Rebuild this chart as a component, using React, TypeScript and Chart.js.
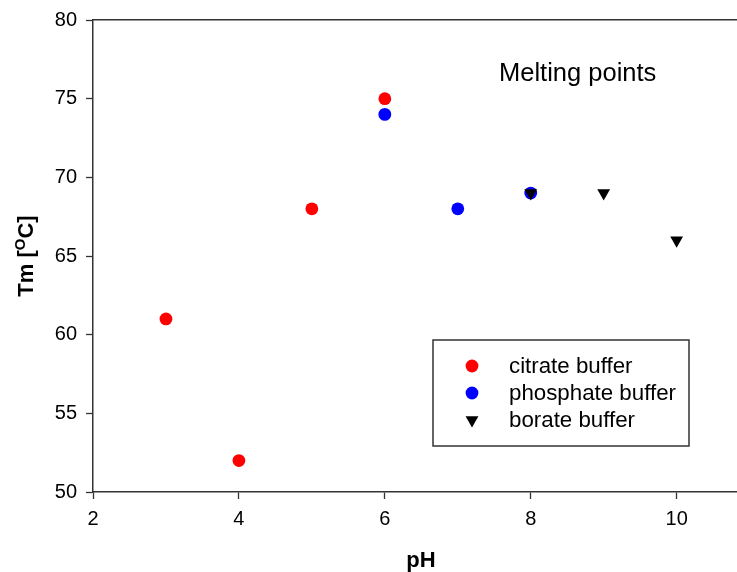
import React, { useEffect, useRef } from "react";
import { Chart, registerables } from "chart.js";

Chart.register(...registerables);

const citratePH = [3, 4, 5, 6];
const citrateTm = [61, 52, 68, 75];
const phosphatePH = [6, 7, 8];
const phosphateTm = [74, 68, 69];
const boratePH = [8, 9, 10];
const borateTm = [69, 69, 66];

const xTicks = [2, 4, 6, 8, 10];
const yTicks = [50, 55, 60, 65, 70, 75, 80];

const chartTitle = "Melting points";
const xTitle = "pH";

const FONT = "'Liberation Sans', Arial, sans-serif";

const toPts = (xs: number[], ys: number[]) => xs.map((x, i) => ({ x, y: ys[i] }));

const overlayPlugin = {
  id: "overlay",
  afterDraw(chart: any) {
    const ctx = chart.ctx as CanvasRenderingContext2D;
    ctx.save();
    ctx.fillStyle = "#000";
    ctx.font = `25.5px ${FONT}`;
    ctx.textAlign = "left";
    ctx.textBaseline = "alphabetic";
    ctx.fillText(chartTitle, 499, 81);

    ctx.font = `bold 22px ${FONT}`;
    ctx.textAlign = "center";
    ctx.fillText(xTitle, 421, 567);

    ctx.save();
    ctx.translate(33, 256);
    ctx.rotate(-Math.PI / 2);
    const big = `bold 22px ${FONT}`;
    const small = `bold 15px ${FONT}`;
    ctx.font = big;
    const w1 = ctx.measureText("Tm [").width;
    const w3 = ctx.measureText("C]").width;
    ctx.font = small;
    const w2 = ctx.measureText("O").width;
    const total = w1 + w2 + w3;
    let x0 = -total / 2;
    ctx.textAlign = "left";
    ctx.font = big;
    ctx.fillText("Tm [", x0, 0);
    x0 += w1;
    ctx.font = small;
    ctx.fillText("O", x0, -8);
    x0 += w2;
    ctx.font = big;
    ctx.fillText("C]", x0, 0);
    ctx.restore();

    const bx = 433, by = 340, bw = 256, bh = 106;
    ctx.strokeStyle = "#333";
    ctx.lineWidth = 1.5;
    ctx.strokeRect(bx, by, bw, bh);
    const rows = [366, 393, 420];
    chart.data.datasets.forEach((ds: any, i: number) => {
      const cy = rows[i];
      const cx = 472;
      ctx.fillStyle = ds.backgroundColor;
      ctx.beginPath();
      if (ds.pointStyle === "triangle") {
        const r = ds.pointRadius;
        let rad = Math.PI;
        ctx.moveTo(cx + Math.sin(rad) * r, cy - Math.cos(rad) * r);
        rad += (2 * Math.PI) / 3;
        ctx.lineTo(cx + Math.sin(rad) * r, cy - Math.cos(rad) * r);
        rad += (2 * Math.PI) / 3;
        ctx.lineTo(cx + Math.sin(rad) * r, cy - Math.cos(rad) * r);
        ctx.closePath();
      } else {
        ctx.arc(cx, cy, ds.pointRadius, 0, Math.PI * 2);
      }
      ctx.fill();
      ctx.fillStyle = "#000";
      ctx.font = `22.3px ${FONT}`;
      ctx.textAlign = "left";
      ctx.textBaseline = "middle";
      ctx.fillText(ds.label, 509, cy + 1);
    });
    ctx.restore();
  },
};

export default function App() {
  const ref = useRef<HTMLCanvasElement | null>(null);
  useEffect(() => {
    document.body.style.overflow = "hidden";
    document.documentElement.style.overflow = "hidden";
    const canvas = ref.current!;
    const xMax = 2 + 644 / 73;
    const chart = new Chart(canvas, {
      type: "scatter",
      data: {
        datasets: [
          {
            label: "citrate buffer",
            data: toPts(citratePH, citrateTm),
            backgroundColor: "#ff0000",
            borderWidth: 0,
            pointRadius: 6.4,
            pointStyle: "circle",
            order: 2,
          },
          {
            label: "phosphate buffer",
            data: toPts(phosphatePH, phosphateTm),
            backgroundColor: "#0000ff",
            borderWidth: 0,
            pointRadius: 6.4,
            pointStyle: "circle",
            order: 1,
          },
          {
            label: "borate buffer",
            data: toPts(boratePH, borateTm),
            backgroundColor: "#000000",
            borderWidth: 0,
            pointRadius: 7.4,
            pointStyle: "triangle",
            rotation: 180,
            order: 0,
          } as any,
        ],
      },
      options: {
        animation: false,
        responsive: false,
        maintainAspectRatio: false,
        layout: { padding: 0 },
        plugins: { legend: { display: false }, tooltip: { enabled: false }, title: { display: false } },
        scales: {
          x: {
            type: "linear",
            position: "bottom",
            min: 2,
            max: xMax,
            afterBuildTicks: (s: any) => {
              s.ticks = xTicks.map((v) => ({ value: v }));
            },
            afterFit: (s: any) => {
              s.height = 80;
              s.paddingLeft = 0;
              s.paddingRight = 0;
            },
            grid: { drawOnChartArea: false, tickLength: 7, color: "#333", tickWidth: 1.3 },
            border: { display: true, color: "#333", width: 1.5 },
            ticks: { color: "#000", font: { family: FONT, size: 20 }, padding: 8, maxRotation: 0, autoSkip: false },
          },
          x2: {
            type: "linear",
            position: "top",
            min: 2,
            max: xMax,
            afterFit: (s: any) => {
              s.height = 20;
              s.paddingLeft = 0;
              s.paddingRight = 0;
            },
            grid: { display: false },
            border: { display: true, color: "#333", width: 1.5 },
            ticks: { display: false },
          },
          y: {
            type: "linear",
            position: "left",
            min: 50,
            max: 80,
            afterBuildTicks: (s: any) => {
              s.ticks = yTicks.map((v) => ({ value: v }));
            },
            afterFit: (s: any) => {
              s.width = 93;
              s.paddingTop = 0;
              s.paddingBottom = 0;
            },
            grid: { drawOnChartArea: false, tickLength: 7, color: "#333", tickWidth: 1.3 },
            border: { display: true, color: "#333", width: 1.5 },
            ticks: { color: "#000", font: { family: FONT, size: 20 }, padding: 9, autoSkip: false },
          },
        },
      },
      plugins: [overlayPlugin],
    });
    return () => chart.destroy();
  }, []);
  return (
    <canvas
      ref={ref}
      width={744}
      height={572}
      style={{ position: "absolute", left: 0, top: 0, width: 744, height: 572 }}
    />
  );
}
